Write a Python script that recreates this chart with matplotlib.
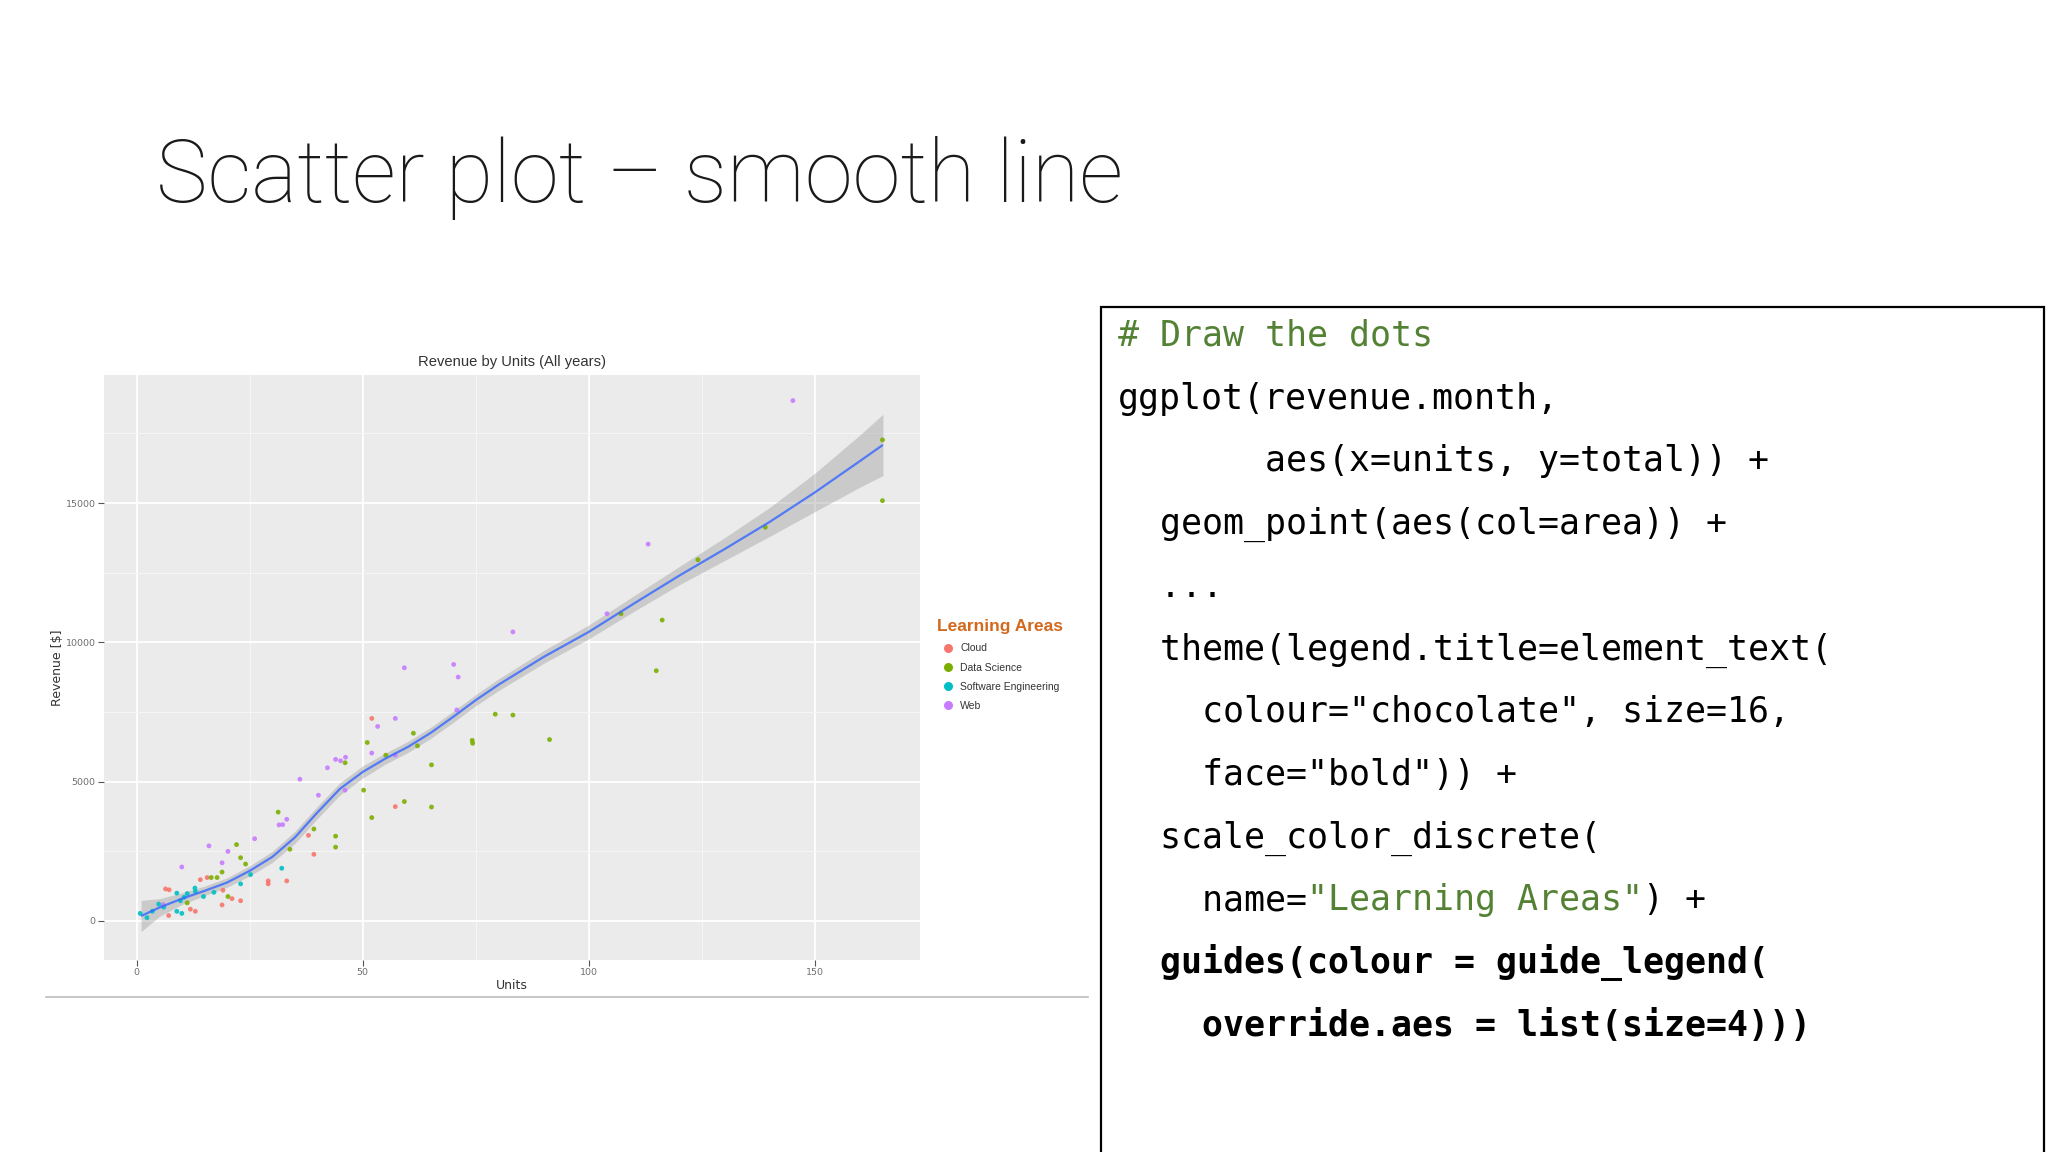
import matplotlib
matplotlib.use("Agg")
import matplotlib.pyplot as plt
from matplotlib.lines import Line2D
from matplotlib.patches import Rectangle
import numpy as np

# ---------------- data ----------------
categories = ["Cloud", "Data Science", "Software Engineering", "Web"]
cat_colors = ["#F8766D", "#7CAE00", "#00BFC4", "#C77CFF"]

cloud_x = [6.4, 7.2, 7.1, 11.9, 13.0, 14.1, 15.6, 19.1, 18.9, 21.1, 23.0, 29.1, 29.1, 33.2, 38.0, 39.2, 52.0, 57.2]
cloud_y = [1151, 1120, 197, 424, 348, 1484, 1560, 1106, 576, 803, 727, 1439, 1333, 1439, 3075, 2394, 7272, 4106]

ds_x = [11.2, 16.5, 17.8, 18.9, 20.2, 22.1, 23.0, 24.1, 31.3, 33.9, 39.2, 44.0, 44.0, 46.1, 50.2, 51.0, 52.0,
        55.1, 59.2, 61.2, 62.1, 65.2, 65.2, 74.2, 74.3, 79.3, 83.2, 91.3, 107.1, 114.9, 116.2, 124.1, 139.0,
        164.9, 164.9]
ds_y = [651, 1560, 1560, 1757, 879, 2742, 2272, 2045, 3909, 2575, 3303, 3045, 2651, 5681, 4697, 6408, 3712,
        5954, 4288, 6741, 6287, 5605, 4091, 6484, 6380, 7424, 7393, 6514, 11029, 8984, 10802, 12968, 14135,
        17271, 15089]

se_x = [0.8, 2.3, 3.5, 4.9, 6.0, 8.9, 9.7, 8.9, 10.0, 10.5, 11.2, 12.9, 13.0, 14.8, 17.1, 23.0, 25.2, 32.1]
se_y = [273, 121, 350, 606, 500, 1000, 727, 348, 273, 850, 985, 1182, 1060, 879, 1030, 1333, 1666, 1894]

web_x = [5.9, 10.0, 16.0, 18.9, 20.2, 26.1, 31.5, 32.3, 33.2, 36.1, 40.2, 42.2, 44.0, 45.1, 46.2, 46.1, 53.3,
         52.0, 57.2, 57.2, 59.2, 70.1, 71.1, 70.8, 83.2, 104.0, 113.1, 145.1]
web_y = [590, 1939, 2697, 2090, 2500, 2954, 3450, 3460, 3651, 5090, 4515, 5500, 5802, 5750, 5878, 4697, 6984,
         6030, 7272, 5954, 9090, 9210, 8757, 7575, 10378, 11029, 13529, 18680]

# loess smooth line and its standard-error half width
smooth_x = [1, 5, 10, 15, 20, 25, 30, 35, 40, 45, 50, 55, 60, 65, 70, 75, 80, 90, 100, 110, 120, 130, 140, 150, 160, 165]
smooth_y = [180, 480, 800, 1080, 1380, 1800, 2300, 3000, 3900, 4750, 5350, 5830, 6250, 6750, 7330, 7930, 8480,
            9480, 10380, 11400, 12400, 13350, 14330, 15390, 16520, 17090]
smooth_se = [560, 320, 210, 170, 170, 180, 200, 220, 220, 220, 220, 200, 200, 200, 200, 200, 210, 230, 250, 280,
             330, 410, 520, 690, 940, 1100]

x_ticks = [0, 50, 100, 150]
y_ticks = [0, 5000, 10000, 15000]

code_lines = [
    [("# Draw the dots", "#548235")],
    [("ggplot(revenue.month,", "black")],
    [("       aes(x=units, y=total)) +", "black")],
    [("  geom_point(aes(col=area)) +", "black")],
    [("  ...", "black")],
    [("  theme(legend.title=element_text(", "black")],
    [("    colour=\"chocolate\", size=16,", "black")],
    [("    face=\"bold\")) +", "black")],
    [("  scale_color_discrete(", "black")],
    [("    name=", "black"), ("\"Learning Areas\"", "#548235"), (") +", "black")],
    [("  guides(colour = guide_legend(", "black")],
    [("    override.aes = list(size=4)))", "black")],
]
code_bold = [False] * 10 + [True, True]

# ---------------- figure ----------------
W, H = 2048, 1152
fig = plt.figure(figsize=(W / 100, H / 100), dpi=100)
fig.patch.set_facecolor("white")

def fx(px):
    return px / W

def fy(py):
    return 1 - py / H

# slide title
fig.text(fx(156), fy(202), "Scatter plot \u2013 smooth line", fontsize=62.5, family="Roboto",
         fontweight="light", color="#1a1a1a", va="baseline", ha="left")

# ---------------- chart ----------------
ax = fig.add_axes([fx(104), fy(960), fx(920) - fx(104), fy(375) - fy(960)])
ax.set_facecolor("#EBEBEB")
for s in ax.spines.values():
    s.set_visible(False)
ax.set_xlim(-7.2, 173.2)
ax.set_ylim(-1400, 19600)
ax.set_xticks(x_ticks)
ax.set_yticks(y_ticks)
ax.set_xticks([25, 75, 125], minor=True)
ax.set_yticks([2500, 7500, 12500, 17500], minor=True)
ax.grid(which="major", color="white", lw=1.3)
ax.grid(which="minor", color="#f6f6f6", lw=0.7)
ax.set_axisbelow(True)
ax.tick_params(which="major", length=4, width=0.8, color="#555555", labelsize=6.8,
               labelcolor="#6e6e6e", pad=2)
ax.tick_params(which="minor", length=0)

sx = np.array(smooth_x, dtype=float)
sy = np.array(smooth_y, dtype=float)
ss = np.array(smooth_se, dtype=float)
ax.fill_between(sx, sy - ss, sy + ss, color="#999999", alpha=0.4, lw=0, zorder=2)

series = [(cloud_x, cloud_y), (ds_x, ds_y), (se_x, se_y), (web_x, web_y)]
for (xs, ys), c, name in zip(series, cat_colors, categories):
    ax.scatter(xs, ys, s=12, color=c, edgecolors="none", alpha=0.9, zorder=3)

ax.plot(sx, sy, color="#3366FF", lw=1.6, alpha=0.8, zorder=4, solid_capstyle="butt")

ax.set_xlabel("Units", fontsize=9, color="#333333")
ax.xaxis.set_label_coords(0.5, -(979 - 960) / 585)
ax.set_ylabel("Revenue [$]", fontsize=9, color="#333333")
ax.yaxis.set_label_coords((64 - 104) / 816, 0.5)

fig.text(fx(512), fy(362), "Revenue by Units (All years)", fontsize=10.6, color="#333333",
         ha="center", va="center", family="Liberation Sans")

handles = [Line2D([], [], marker="o", ls="none", markersize=6.5, markerfacecolor=c,
                  markeredgecolor="none") for c in cat_colors]
leg = ax.legend(handles, categories, title="Learning Areas", loc="upper left",
                bbox_to_anchor=(fx(932), fy(614)), bbox_transform=fig.transFigure,
                frameon=False, fontsize=7.5, borderpad=0, handlelength=2.0,
                handletextpad=0.2, labelspacing=0.88, alignment="left",
                title_fontproperties={"weight": "bold", "size": 12.5, "family": "Liberation Sans"})
leg.get_title().set_color("#D2691E")
for t in leg.get_texts():
    t.set_color("#333333")
    t.set_family("Liberation Sans")

# grey separator line under the picture
fig.add_artist(Line2D([fx(46), fx(1088)], [fy(997), fy(997)], color="#bdbdbd", lw=1.2))

# ---------------- code box ----------------
fig.add_artist(Rectangle((fx(1101), fy(1160)), fx(2044) - fx(1101), fy(307) - fy(1160),
                         fill=False, edgecolor="black", lw=1.6, transform=fig.transFigure))

code_fs = 25.1
char_w = 0.602 * code_fs * 100 / 72
x0 = 1118
base0 = 346
pitch = 62.7
for i, (segs, bold) in enumerate(zip(code_lines, code_bold)):
    col = 0
    for txt, c in segs:
        fig.text(fx(x0 + col * char_w), fy(base0 + i * pitch), txt, fontsize=code_fs,
                 family="DejaVu Sans Mono", color=c, va="baseline", ha="left",
                 fontweight="bold" if bold else "normal")
        col += len(txt)

fig.savefig("out.png", dpi=100, facecolor="white")
